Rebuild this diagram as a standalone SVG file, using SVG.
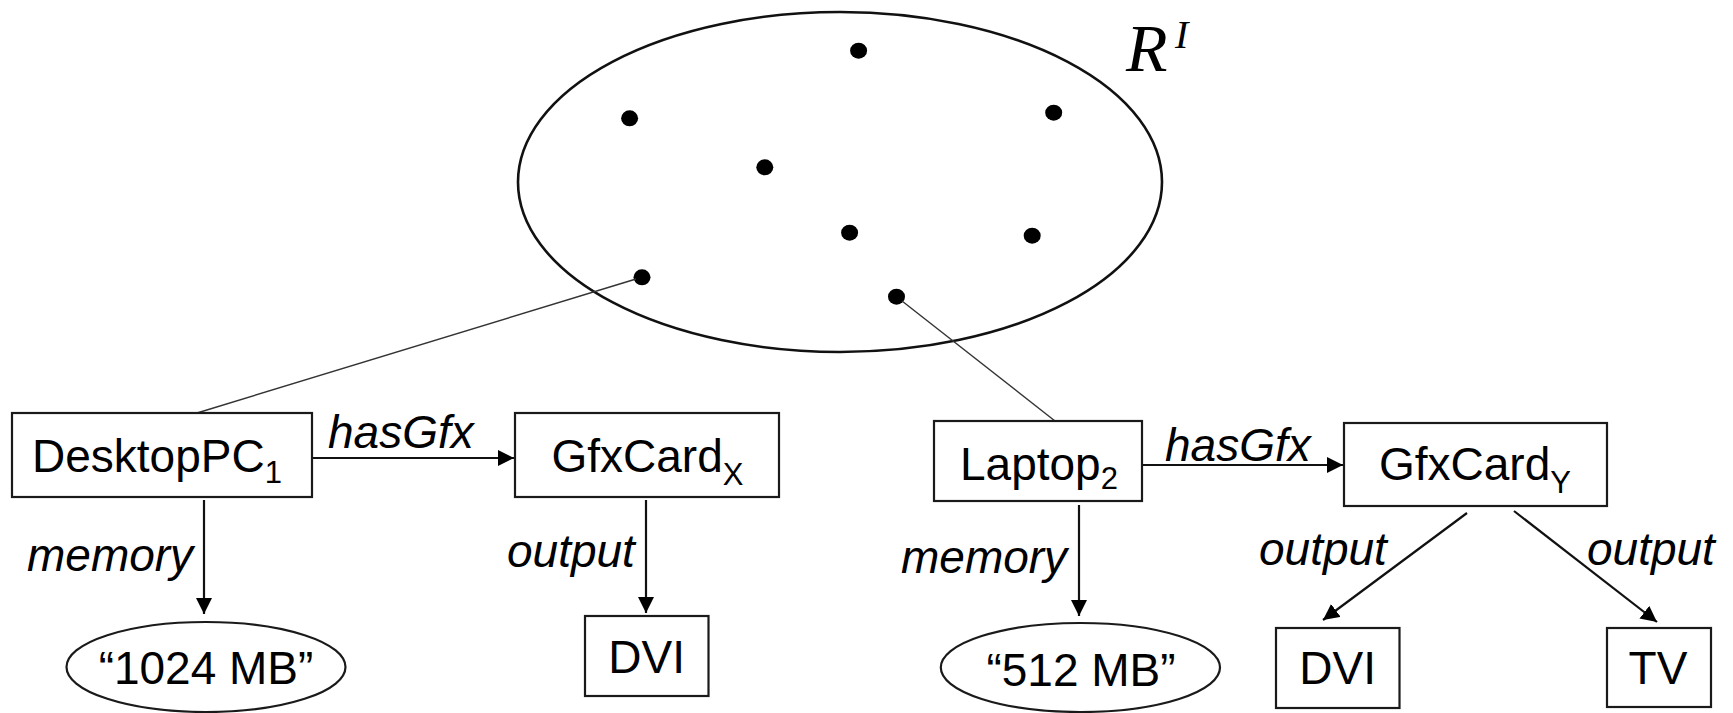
<svg xmlns="http://www.w3.org/2000/svg" width="1733" height="713" viewBox="0 0 1733 713">
<style>
.box{fill:#fff;stroke:#1a1a1a;stroke-width:2.2}
.ell{fill:#fff;stroke:#1a1a1a;stroke-width:2.2}
.t{font-family:"Liberation Sans",Arial,sans-serif;font-size:46px;fill:#000}
.sub{font-size:31px}
.lbl{font-family:"Liberation Sans",Arial,sans-serif;font-size:46px;font-style:italic;fill:#000}
.arr{stroke:#111;stroke-width:2.2;fill:none;marker-end:url(#ah)}
.ln{stroke:#333;stroke-width:1.4;fill:none}
.dot{fill:#000}
</style>
<defs>
<marker id="ah" viewBox="0 0 16 16" refX="16" refY="8" markerWidth="16" markerHeight="16" orient="auto" markerUnits="userSpaceOnUse">
<path d="M0,0 L16,8 L0,16 z" fill="#000"/>
</marker>
</defs>

<g id="set">
<ellipse cx="840" cy="182" rx="322" ry="170" fill="none" stroke="#111" stroke-width="2.6"/>
<ellipse class="dot" cx="858.6" cy="50.7" rx="8.5" ry="8"/>
<ellipse class="dot" cx="629.6" cy="118.3" rx="8.5" ry="8"/>
<ellipse class="dot" cx="1053.7" cy="112.7" rx="8.5" ry="8"/>
<ellipse class="dot" cx="764.8" cy="167.3" rx="8.5" ry="8"/>
<ellipse class="dot" cx="849.6" cy="232.7" rx="8.5" ry="8"/>
<ellipse class="dot" cx="1032.2" cy="235.7" rx="8.5" ry="8"/>
<ellipse class="dot" cx="642" cy="277.3" rx="8.5" ry="8"/>
<ellipse class="dot" cx="896.5" cy="296.7" rx="8.5" ry="8"/>
<text x="1126" y="70.5" font-family="Liberation Serif,'Times New Roman',serif" font-style="italic" font-size="68" fill="#000">R</text>
<text x="1175" y="48" font-family="Liberation Serif,'Times New Roman',serif" font-style="italic" font-size="40" fill="#000">I</text>
</g>

<g id="connectors">
<line class="ln" x1="636" y1="279" x2="197" y2="413"/>
<line class="ln" x1="902" y1="301" x2="1055" y2="421"/>
<line class="arr" x1="312" y1="458" x2="514" y2="458"/>
<line class="arr" x1="1142" y1="465" x2="1343" y2="465"/>
<line class="arr" x1="204" y1="500" x2="204" y2="614"/>
<line class="arr" x1="646" y1="500" x2="646" y2="613"/>
<line class="arr" x1="1079" y1="505" x2="1079" y2="616"/>
<line class="arr" x1="1467" y1="513" x2="1323" y2="620"/>
<line class="arr" x1="1514" y1="511" x2="1657" y2="622"/>
<text class="lbl" x="328" y="448">hasGfx</text>
<text class="lbl" x="1165" y="461">hasGfx</text>
<text class="lbl" x="27" y="571">memory</text>
<text class="lbl" x="901" y="573">memory</text>
<text class="lbl" x="507" y="567">output</text>
<text class="lbl" x="1259" y="565">output</text>
<text class="lbl" x="1587" y="565">output</text>
</g>

<g id="desktop">
<rect class="box" x="12" y="413" width="300" height="84"/>
<text class="t" x="32" y="472">DesktopPC<tspan class="sub" dy="11">1</tspan></text>
</g>
<g id="gfxcardx">
<rect class="box" x="515" y="413" width="264" height="84"/>
<text class="t" x="551.5" y="472">GfxCard<tspan class="sub" dy="13">X</tspan></text>
</g>
<g id="laptop">
<rect class="box" x="934" y="421" width="208" height="80"/>
<text class="t" x="960" y="480">Laptop<tspan class="sub" dy="9">2</tspan></text>
</g>
<g id="gfxcardy">
<rect class="box" x="1344" y="423" width="263" height="83"/>
<text class="t" x="1379" y="480">GfxCard<tspan class="sub" dy="13">Y</tspan></text>
</g>
<g id="mem1024">
<ellipse class="ell" cx="206" cy="667" rx="139.5" ry="45"/>
<text class="t" x="206" y="684" text-anchor="middle">“1024 MB”</text>
</g>
<g id="dvi1">
<rect class="box" x="585" y="616" width="123.5" height="80"/>
<text class="t" x="646.7" y="673" text-anchor="middle">DVI</text>
</g>
<g id="mem512">
<ellipse class="ell" cx="1080.4" cy="667.5" rx="139.6" ry="44.5"/>
<text class="t" x="1081" y="686" text-anchor="middle">“512 MB”</text>
</g>
<g id="dvi2">
<rect class="box" x="1276" y="628" width="123.5" height="80"/>
<text class="t" x="1337.7" y="684" text-anchor="middle">DVI</text>
</g>
<g id="tv">
<rect class="box" x="1607" y="628" width="104" height="79"/>
<text class="t" x="1658" y="684" text-anchor="middle">TV</text>
</g>
</svg>
